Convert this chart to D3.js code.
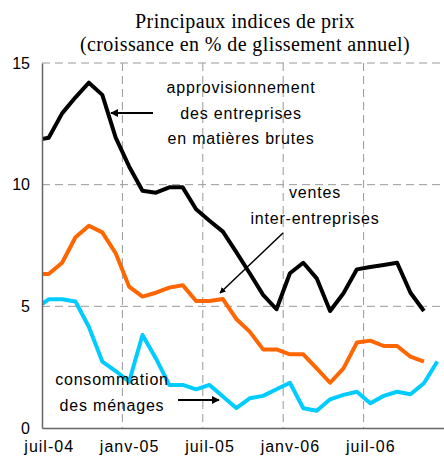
<!DOCTYPE html>
<html>
<head>
<meta charset="utf-8">
<script src="https://cdn.jsdelivr.net/npm/d3@7"></script>
<style>
  body { margin: 0; background: #fff; }
  svg { display: block; }
</style>
</head>
<body>
<div id="chart"></div>
<script>
// months, first one (juin-04) sits just left of the axis and gets clipped
var months = ["juin-04",
  "juil-04","août-04","sept-04","oct-04","nov-04","déc-04",
  "janv-05","févr-05","mars-05","avr-05","mai-05","juin-05",
  "juil-05","août-05","sept-05","oct-05","nov-05","déc-05",
  "janv-06","févr-06","mars-06","avr-06","mai-06","juin-06",
  "juil-06","août-06","sept-06","oct-06","nov-06","déc-06"];

var approvisionnement = [11.82,
  11.93,12.93,13.59,14.19,13.69,11.93,
  10.75,9.75,9.67,9.89,9.89,8.99,
  8.52,8.07,7.23,6.36,5.47,4.88,
  6.36,6.79,6.15,4.81,5.54,6.52,
  6.62,6.70,6.79,5.56,4.81,null];

var ventes = [6.33,
  6.33,6.79,7.84,8.31,8.04,7.18,
  5.81,5.40,5.56,5.77,5.87,5.22,
  5.22,5.30,4.48,3.96,3.23,3.23,
  3.03,3.03,2.45,1.86,2.45,3.51,
  3.59,3.37,3.37,2.93,2.73,null];

var consommation = [4.90,
  5.29,5.29,5.20,4.15,2.73,2.34,
  1.90,3.82,2.86,1.77,1.77,1.59,
  1.77,1.29,0.82,1.22,1.32,1.59,
  1.86,0.81,0.71,1.18,1.36,1.49,
  1.02,1.32,1.49,1.39,1.84,2.73];

var tickMonths = ["juil-04","janv-05","juil-05","janv-06","juil-06"];
var yTicks = [0, 5, 10, 15];

var W = 444, H = 459;
var mLeft = 42, mRight = 444, mTop = 63, mBottom = 428;

var svg = d3.select('#chart').append('svg')
  .attr('width', W).attr('height', H);

// month index 0 = juil-04, points at band centres
var x = d3.scaleLinear().domain([0, 30]).range([mLeft, mRight]);
var y = d3.scaleLinear().domain([0, 15]).range([mBottom, mTop]);
function xi(m) { return months.indexOf(m) - 1; }

var defs = svg.append('defs');
defs.append('clipPath').attr('id', 'plot')
  .append('rect').attr('x', mLeft).attr('y', 0)
  .attr('width', mRight - mLeft).attr('height', mBottom);

defs.append('marker')
  .attr('id', 'head').attr('viewBox', '0 0 10 10')
  .attr('refX', 9).attr('refY', 5)
  .attr('markerWidth', 4).attr('markerHeight', 4)
  .attr('markerUnits', 'strokeWidth')
  .attr('orient', 'auto')
  .append('path').attr('d', 'M0,0 L10,5 L0,10 z').attr('fill', '#000');

// title
var title = svg.append('text')
  .attr('text-anchor', 'middle')
  .style('font-family', '"Liberation Serif", "Times New Roman", serif')
  .style('font-size', '20px')
  .style('letter-spacing', '0.4px');
title.append('tspan').attr('x', 245).attr('y', 28).text('Principaux indices de prix');
title.append('tspan').attr('x', 245).attr('y', 51).text('(croissance en % de glissement annuel)');

// grid
var grid = svg.append('g')
  .attr('stroke', '#999').attr('stroke-width', 1)
  .attr('stroke-dasharray', '8,5');
grid.selectAll('line.h').data(yTicks.filter(function(d){ return d > 0; }))
  .enter().append('line').attr('class', 'h')
  .attr('x1', mLeft).attr('x2', mRight)
  .attr('y1', function(d){ return y(d); })
  .attr('y2', function(d){ return y(d); });
grid.selectAll('line.v').data(tickMonths.slice(1))
  .enter().append('line').attr('class', 'v')
  .attr('x1', function(d){ return x(xi(d)); })
  .attr('x2', function(d){ return x(xi(d)); })
  .attr('y1', mTop).attr('y2', mBottom);

// series
var line = d3.line()
  .defined(function(d){ return d != null; })
  .x(function(d, i){ return x(i - 1 + 0.5); })
  .y(function(d){ return y(d); });

var series = [
  { values: ventes, color: '#ff6600' },
  { values: consommation, color: '#00ccff' },
  { values: approvisionnement, color: '#000000' }
];

svg.append('g').attr('clip-path', 'url(#plot)')
  .selectAll('path').data(series).enter().append('path')
  .attr('d', function(s){ return line(s.values); })
  .attr('fill', 'none')
  .attr('stroke', function(s){ return s.color; })
  .attr('stroke-width', 4)
  .attr('stroke-linejoin', 'round');

// axes
var yAxis = d3.axisLeft(y).tickValues(yTicks).tickSize(0).tickPadding(12);
svg.append('g').attr('transform', 'translate(' + mLeft + ',0)')
  .call(yAxis)
  .call(function(g){
    g.select('.domain').attr('stroke', '#666').attr('stroke-width', 1.5);
    g.selectAll('text')
      .style('font-family', '"Liberation Sans", Arial, sans-serif')
      .style('font-size', '16px').attr('fill', '#000');
  });

var xAxis = d3.axisBottom(x)
  .tickValues(tickMonths.map(function(m){ return xi(m) + 0.5; }))
  .tickFormat(function(d){ return months[d + 0.5]; })
  .tickSize(0).tickPadding(13);
svg.append('g').attr('transform', 'translate(0,' + mBottom + ')')
  .call(xAxis)
  .call(function(g){
    g.select('.domain').attr('stroke', '#666').attr('stroke-width', 1.5);
    g.selectAll('text')
      .style('font-family', '"Liberation Sans", Arial, sans-serif')
      .style('font-size', '16px')
      .style('letter-spacing', '1px')
      .attr('fill', '#000');
  });

// annotations
var notes = [
  { x: 241, y: 93, lines: ['approvisionnement', 'des entreprises', 'en matières brutes'] },
  { x: 315, y: 198, lines: ['ventes', 'inter-entreprises'] },
  { x: 112, y: 385, lines: ['consommation', 'des ménages'] }
];
notes.forEach(function(n){
  var t = svg.append('text')
    .attr('text-anchor', 'middle')
    .style('font-family', '"Liberation Sans", Arial, sans-serif')
    .style('font-size', '16px')
    .style('letter-spacing', '0.8px');
  n.lines.forEach(function(l, i){
    t.append('tspan').attr('x', n.x).attr('y', n.y + i * 25.5).text(l);
  });
});

var arrows = [
  { x1: 153, y1: 113, x2: 111, y2: 113, w: 2 },
  { x1: 283, y1: 233, x2: 220, y2: 293, w: 1.5 },
  { x1: 178, y1: 400, x2: 219, y2: 400, w: 2 }
];
svg.selectAll('line.arrow').data(arrows).enter().append('line')
  .attr('class', 'arrow')
  .attr('x1', function(d){ return d.x1; }).attr('y1', function(d){ return d.y1; })
  .attr('x2', function(d){ return d.x2; }).attr('y2', function(d){ return d.y2; })
  .attr('stroke', '#000')
  .attr('stroke-width', function(d){ return d.w; })
  .attr('marker-end', 'url(#head)');
</script>
</body>
</html>
